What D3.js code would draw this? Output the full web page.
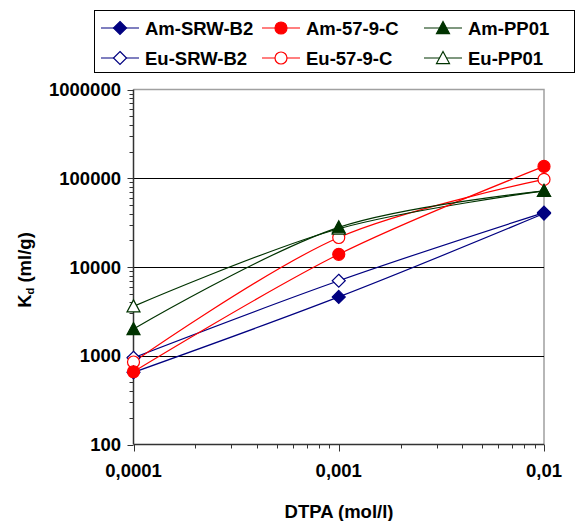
<!DOCTYPE html>
<html>
<head>
<meta charset="utf-8">
<script src="https://d3js.org/d3.v7.min.js"></script>
<style>
  body { margin: 0; background: #fff; }
  svg { display: block; font-family: "Liberation Sans", Arial, sans-serif; font-weight: bold; }
</style>
</head>
<body>
<script>
// DTPA concentration (mol/l) and Kd (ml/g) per series
var dtpa = [0.0001, 0.001, 0.01];
var seriesNames = ['Am-SRW-B2', 'Am-57-9-C', 'Am-PP01', 'Eu-SRW-B2', 'Eu-57-9-C', 'Eu-PP01'];
var amSrwB2 = [650, 4600, 40000];
var am579C = [660, 13900, 136000];
var amPP01 = [2000, 28000, 72000];
var euSrwB2 = [950, 7000, 41000];
var eu579C = [850, 21500, 97000];
var euPP01 = [3600, 27000, 72000];
var xTicks = [0.0001, 0.001, 0.01];
var xTickLabels = ['0,0001', '0,001', '0,01'];
var yTicks = [100, 1000, 10000, 100000, 1000000];

var styles = [
  { color: '#000080', shape: 'diamond', filled: true },
  { color: '#ff0000', shape: 'circle', filled: true },
  { color: '#003300', shape: 'triangle', filled: true },
  { color: '#000080', shape: 'diamond', filled: false },
  { color: '#ff0000', shape: 'circle', filled: false },
  { color: '#003300', shape: 'triangle', filled: false }
];
var values = [amSrwB2, am579C, amPP01, euSrwB2, eu579C, euPP01];

var W = 576, H = 521;
var pLeft = 133.5, pRight = 544, pTop = 89.5, pBottom = 444.5;
var fs = '18.5px';

var svg = d3.select('body').append('svg').attr('width', W).attr('height', H);

var x = d3.scaleLog().domain([0.0001, 0.01]).range([pLeft, pRight]);
var y = d3.scaleLog().domain([100, 1000000]).range([pBottom, pTop]);

// plot frame (gray top/right)
svg.append('path')
  .attr('d', 'M' + pLeft + ',' + pTop + 'H' + pRight + 'V' + pBottom)
  .attr('fill', 'none').attr('stroke', '#a0a0a0').attr('stroke-width', 1.5);

// gridlines
svg.selectAll('.grid').data(yTicks.filter(function(d) { return d > 100 && d < 1000000; }))
  .enter().append('line')
  .attr('x1', pLeft).attr('x2', pRight)
  .attr('y1', function(d) { return Math.round(y(d)) + 0.5; })
  .attr('y2', function(d) { return Math.round(y(d)) + 0.5; })
  .attr('stroke', '#000').attr('stroke-width', 1);

// minor ticks
var yMinor = [];
yTicks.slice(0, -1).forEach(function(d) { for (var k = 2; k < 10; k++) yMinor.push(d * k); });
var xMinor = [];
xTicks.slice(0, -1).forEach(function(d) { for (var k = 2; k < 10; k++) xMinor.push(d * k); });

svg.selectAll('.ymin').data(yMinor).enter().append('line')
  .attr('x1', pLeft - 4).attr('x2', pLeft)
  .attr('y1', function(d) { return Math.round(y(d)) + 0.5; })
  .attr('y2', function(d) { return Math.round(y(d)) + 0.5; })
  .attr('stroke', '#333');
svg.selectAll('.ymaj').data(yTicks).enter().append('line')
  .attr('x1', pLeft - 6).attr('x2', pLeft)
  .attr('y1', function(d) { return Math.round(y(d)) + 0.5; })
  .attr('y2', function(d) { return Math.round(y(d)) + 0.5; })
  .attr('stroke', '#333');
svg.selectAll('.xmin').data(xMinor).enter().append('line')
  .attr('y1', pBottom).attr('y2', pBottom + 4)
  .attr('x1', function(d) { return Math.round(x(d)) + 0.5; })
  .attr('x2', function(d) { return Math.round(x(d)) + 0.5; })
  .attr('stroke', '#333');
svg.selectAll('.xmaj').data(xTicks).enter().append('line')
  .attr('y1', pBottom).attr('y2', pBottom + 7)
  .attr('x1', function(d) { return Math.round(x(d)) + 0.5; })
  .attr('x2', function(d) { return Math.round(x(d)) + 0.5; })
  .attr('stroke', '#333');

// axis lines
svg.append('line').attr('x1', pLeft).attr('x2', pLeft).attr('y1', pTop).attr('y2', pBottom)
  .attr('stroke', '#333').attr('stroke-width', 1.5);
svg.append('line').attr('x1', pLeft).attr('x2', pRight).attr('y1', pBottom).attr('y2', pBottom)
  .attr('stroke', '#333').attr('stroke-width', 1.5);

// tick labels
svg.selectAll('.ylab').data(yTicks).enter().append('text')
  .attr('x', 121).attr('y', function(d) { return y(d) + 6.5; })
  .attr('text-anchor', 'end').style('font-size', fs)
  .text(function(d) { return d; });
svg.selectAll('.xlab').data(xTicks).enter().append('text')
  .attr('x', function(d) { return x(d); }).attr('y', 477)
  .attr('text-anchor', 'middle').style('font-size', fs)
  .text(function(d, i) { return xTickLabels[i]; });

// axis titles
svg.append('text').attr('x', 339).attr('y', 518).attr('text-anchor', 'middle')
  .style('font-size', fs).text('DTPA (mol/l)');
var yt = svg.append('text').attr('transform', 'translate(31,270) rotate(-90)')
  .attr('text-anchor', 'middle').style('font-size', fs);
yt.append('tspan').text('K');
yt.append('tspan').attr('dy', 3).style('font-size', '11px').text('d');
yt.append('tspan').attr('dy', -3).text(' (ml/g)');

function marker(g, st, cx, cy) {
  var fill = st.filled ? st.color : '#fff';
  if (st.shape === 'circle') {
    g.append('circle').attr('cx', cx).attr('cy', cy).attr('r', 6)
      .attr('fill', fill).attr('stroke', st.color).attr('stroke-width', 1.2);
  } else if (st.shape === 'diamond') {
    var r = 6.5;
    g.append('path').attr('d', 'M' + cx + ',' + (cy - r) + 'L' + (cx + r) + ',' + cy + 'L' + cx + ',' + (cy + r) + 'L' + (cx - r) + ',' + cy + 'Z')
      .attr('fill', fill).attr('stroke', st.color).attr('stroke-width', 1.2);
  } else {
    var s = 6.5;
    g.append('path').attr('d', 'M' + cx + ',' + (cy - s) + 'L' + (cx + s) + ',' + (cy + s * 0.85) + 'L' + (cx - s) + ',' + (cy + s * 0.85) + 'Z')
      .attr('fill', fill).attr('stroke', st.color).attr('stroke-width', 1.2);
  }
}

var line = d3.line()
  .x(function(d, i) { return x(dtpa[i]); })
  .y(function(d) { return y(d); })
  .curve(d3.curveCatmullRom.alpha(0.5));

var order = [3, 4, 5, 0, 1, 2];
order.forEach(function(si) {
  svg.append('path').attr('d', line(values[si]))
    .attr('fill', 'none').attr('stroke', styles[si].color).attr('stroke-width', 1.2);
});
order.forEach(function(si) {
  var g = svg.append('g');
  values[si].forEach(function(v, i) { marker(g, styles[si], x(dtpa[i]), y(v)); });
});

// legend
svg.append('rect').attr('x', 94.5).attr('y', 10.5).attr('width', 480).attr('height', 62)
  .attr('fill', '#fff').attr('stroke', '#000').attr('stroke-width', 1);
var colX = [101, 262, 424];
var rowY = [28, 58];
seriesNames.forEach(function(name, i) {
  var cx = colX[i % 3], cy = rowY[Math.floor(i / 3)];
  var g = svg.append('g');
  g.append('line').attr('x1', cx).attr('x2', cx + 38).attr('y1', cy).attr('y2', cy)
    .attr('stroke', styles[i].color).attr('stroke-width', 1.2);
  marker(g, styles[i], cx + 19, cy);
  g.append('text').attr('x', cx + 44).attr('y', cy + 6.5).style('font-size', fs).text(name);
});
</script>
</body>
</html>
